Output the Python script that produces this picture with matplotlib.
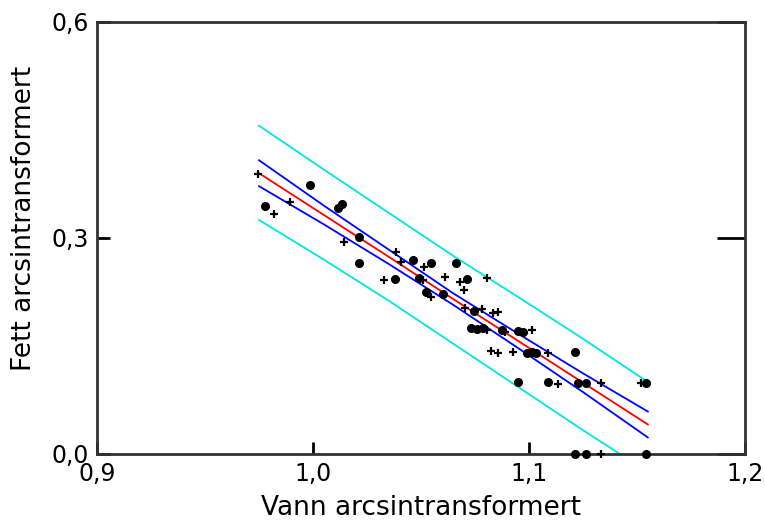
"""
Fett mot vann (arcsin-transformert) med regresjonslinje,
konfidensbånd (blå) og prediksjonsbånd (cyan).
"""

import matplotlib
matplotlib.use('Agg')
import matplotlib.pyplot as plt

# ============================================================
# Data (lest av figuren)
# ============================================================
# enkeltpunkter (+)
plus_x = [0.9745, 0.9819, 0.9894, 1.0144, 1.0384, 1.0407, 1.0514, 1.0329,
          1.0611, 1.0681, 1.0806, 1.0699, 1.0546, 1.0704, 1.0782, 1.0833,
          1.0856, 1.0806, 1.0889, 1.1014, 1.0824, 1.0856, 1.0926, 1.1088,
          1.1134, 1.1333, 1.1519, 1.1333, 1.0509]
plus_y = [0.389, 0.333, 0.350, 0.294, 0.281, 0.267, 0.260, 0.242,
          0.246, 0.239, 0.244, 0.228, 0.218, 0.203, 0.201, 0.196,
          0.197, 0.172, 0.169, 0.172, 0.143, 0.140, 0.142, 0.140,
          0.097, 0.099, 0.099, 0.000, 0.242]

# sammenfallende punkter (fylt)
dot_x = [0.9986, 0.9778, 1.0116, 1.0134, 1.0213, 1.0213, 1.0463, 1.0546,
         1.0662, 1.0380, 1.0491, 1.0523, 1.0602, 1.0713, 1.0745, 1.0731,
         1.0759, 1.0787, 1.0875, 1.0949, 1.0972, 1.0991, 1.1014, 1.1032,
         1.1213, 1.0949, 1.1088, 1.1227, 1.1264, 1.1542, 1.1213, 1.1264,
         1.1542]
dot_y = [0.374, 0.344, 0.342, 0.347, 0.301, 0.265, 0.269, 0.265,
         0.265, 0.243, 0.244, 0.225, 0.222, 0.243, 0.199, 0.175,
         0.174, 0.175, 0.172, 0.171, 0.169, 0.140, 0.142, 0.140,
         0.142, 0.100, 0.100, 0.099, 0.099, 0.099, 0.000, 0.000,
         0.000]

# regresjon og bånd
fit_x = [0.975, 1.005, 1.035, 1.065, 1.095, 1.125, 1.155]
fit_y = [0.390, 0.332, 0.274, 0.215, 0.157, 0.099, 0.041]
conf_hi = [0.408, 0.345, 0.284, 0.223, 0.167, 0.112, 0.059]
conf_lo = [0.372, 0.319, 0.264, 0.207, 0.147, 0.086, 0.023]
pred_hi = [0.456, 0.395, 0.335, 0.275, 0.218, 0.160, 0.100]
pred_lo = [0.325, 0.270, 0.213, 0.153, 0.093, 0.033, -0.025]

x_ticks = [0.9, 1.0, 1.1, 1.2]
y_ticks = [0.0, 0.3, 0.6]
x_ticklabels = ['0,9', '1,0', '1,1', '1,2']
y_ticklabels = ['0,0', '0,3', '0,6']

# ============================================================
# Figur
# ============================================================
fig = plt.figure(figsize=(7.65, 5.26), dpi=100)
ax = fig.add_axes([97 / 765, 72 / 526, 648 / 765, 432 / 526])

ax.plot(fit_x, pred_hi, color='#00e5e5', lw=1.3)
ax.plot(fit_x, pred_lo, color='#00e5e5', lw=1.3)
ax.plot(fit_x, conf_hi, color='#0000ff', lw=1.3)
ax.plot(fit_x, conf_lo, color='#0000ff', lw=1.3)
ax.plot(fit_x, fit_y, color='#ff0000', lw=1.3)

ax.plot(plus_x, plus_y, ls='none', marker='+', ms=6, mew=1.6, color='black',
        clip_on=False, zorder=5)
ax.plot(dot_x, dot_y, ls='none', marker='o', ms=5.5, color='black',
        clip_on=False, zorder=5)

ax.set_xlim(0.9, 1.2)
ax.set_ylim(0.0, 0.6)
ax.set_xticks(x_ticks)
ax.set_xticklabels(x_ticklabels)
ax.set_yticks(y_ticks)
ax.set_yticklabels(y_ticklabels)
ax.tick_params(direction='in', length=9, width=2, labelsize=17, pad=6,
               right=True, top=False, colors='black')
# høyre akse har lengre tikkmerker
for t in ax.yaxis.get_major_ticks():
    t.tick2line.set_markersize(20)

for s in ax.spines.values():
    s.set_linewidth(2)
    s.set_color('#333333')

ax.set_xlabel('Vann arcsintransformert', fontsize=19, labelpad=6)
ax.set_ylabel('Fett arcsintransformert', fontsize=19)
ax.yaxis.set_label_coords(-0.093, 0.546)

fig.savefig('out.png', dpi=100)
